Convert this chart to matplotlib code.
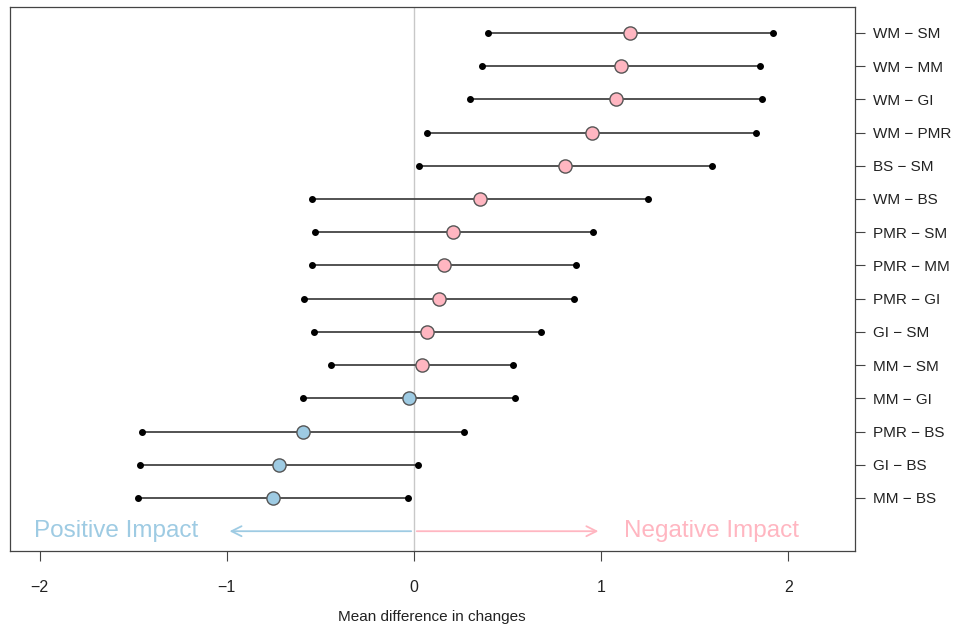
import numpy as np
import matplotlib.pyplot as plt

plt.rcParams['font.family'] = ['Liberation Sans', 'DejaVu Sans']

# comparisons, bottom to top
labels = ["MM − BS", "GI − BS", "PMR − BS", "MM − GI", "MM − SM", "GI − SM",
          "PMR − GI", "PMR − MM", "PMR − SM", "WM − BS", "BS − SM", "WM − PMR",
          "WM − GI", "WM − MM", "WM − SM"]
means = [-0.754, -0.722, -0.594, -0.027, 0.043, 0.072,
         0.132, 0.160, 0.210, 0.351, 0.807, 0.949,
         1.079, 1.107, 1.155]
lower = [-1.476, -1.465, -1.455, -0.594, -0.445, -0.533,
         -0.590, -0.542, -0.528, -0.547, 0.029, 0.070,
         0.298, 0.366, 0.396]
upper = [-0.032, 0.020, 0.266, 0.538, 0.531, 0.679,
         0.857, 0.865, 0.954, 1.250, 1.590, 1.827,
         1.859, 1.850, 1.920]

pink = '#ffb6c1'
blue = '#9ecbe3'

fig = plt.figure(figsize=(9.6, 6.28), dpi=100)
ax = fig.add_axes([0.0104, 0.1226, 0.8802, 0.8663])

y = np.arange(1, len(labels) + 1)
ax.axvline(0, color='#c8c8c8', lw=1.0, zorder=0)

for yi, m, lo, hi in zip(y, means, lower, upper):
    ax.plot([lo, hi], [yi, yi], color='#444444', lw=1.3, zorder=1)
    ax.plot([lo, hi], [yi, yi], 'o', color='black', ms=4, zorder=2)
    fc = pink if m > 0 else blue
    ax.plot(m, yi, 'o', ms=9.5, mfc=fc, mec='#555555', mew=1.0, zorder=3)

# impact arrows
ax.annotate('', xy=(-1.0, 0), xytext=(0, 0),
            arrowprops=dict(arrowstyle='->', color=blue, lw=1.3,
                            mutation_scale=18))
ax.annotate('', xy=(1.0, 0), xytext=(0, 0),
            arrowprops=dict(arrowstyle='->', color=pink, lw=1.3,
                            mutation_scale=18))
ax.text(-1.59, 0, 'Positive Impact', color=blue, fontsize=17.5,
        ha='center', va='center')
ax.text(1.59, 0, 'Negative Impact', color=pink, fontsize=17.5,
        ha='center', va='center')

ax.set_xlim(-2.158, 2.356)
ax.set_ylim(-0.596, 15.78)
ax.set_xticks([-2, -1, 0, 1, 2])
ax.set_xticklabels(['−2', '−1', '0', '1', '2'])
ax.set_yticks(y)
ax.set_yticklabels(labels)
ax.yaxis.tick_right()
ax.tick_params(axis='both', labelsize=11, length=7, width=0.8, color='#444444',
               labelcolor='#222222')
ax.tick_params(axis='x', pad=14, labelsize=11.5)
ax.tick_params(axis='y', pad=6)
for s in ax.spines.values():
    s.set_color('#444444')
    s.set_linewidth(0.9)
fig.text(0.45, 0.018, 'Mean difference in changes', fontsize=11,
         color='#222222', ha='center', va='center')

fig.savefig('out.png', dpi=100)
